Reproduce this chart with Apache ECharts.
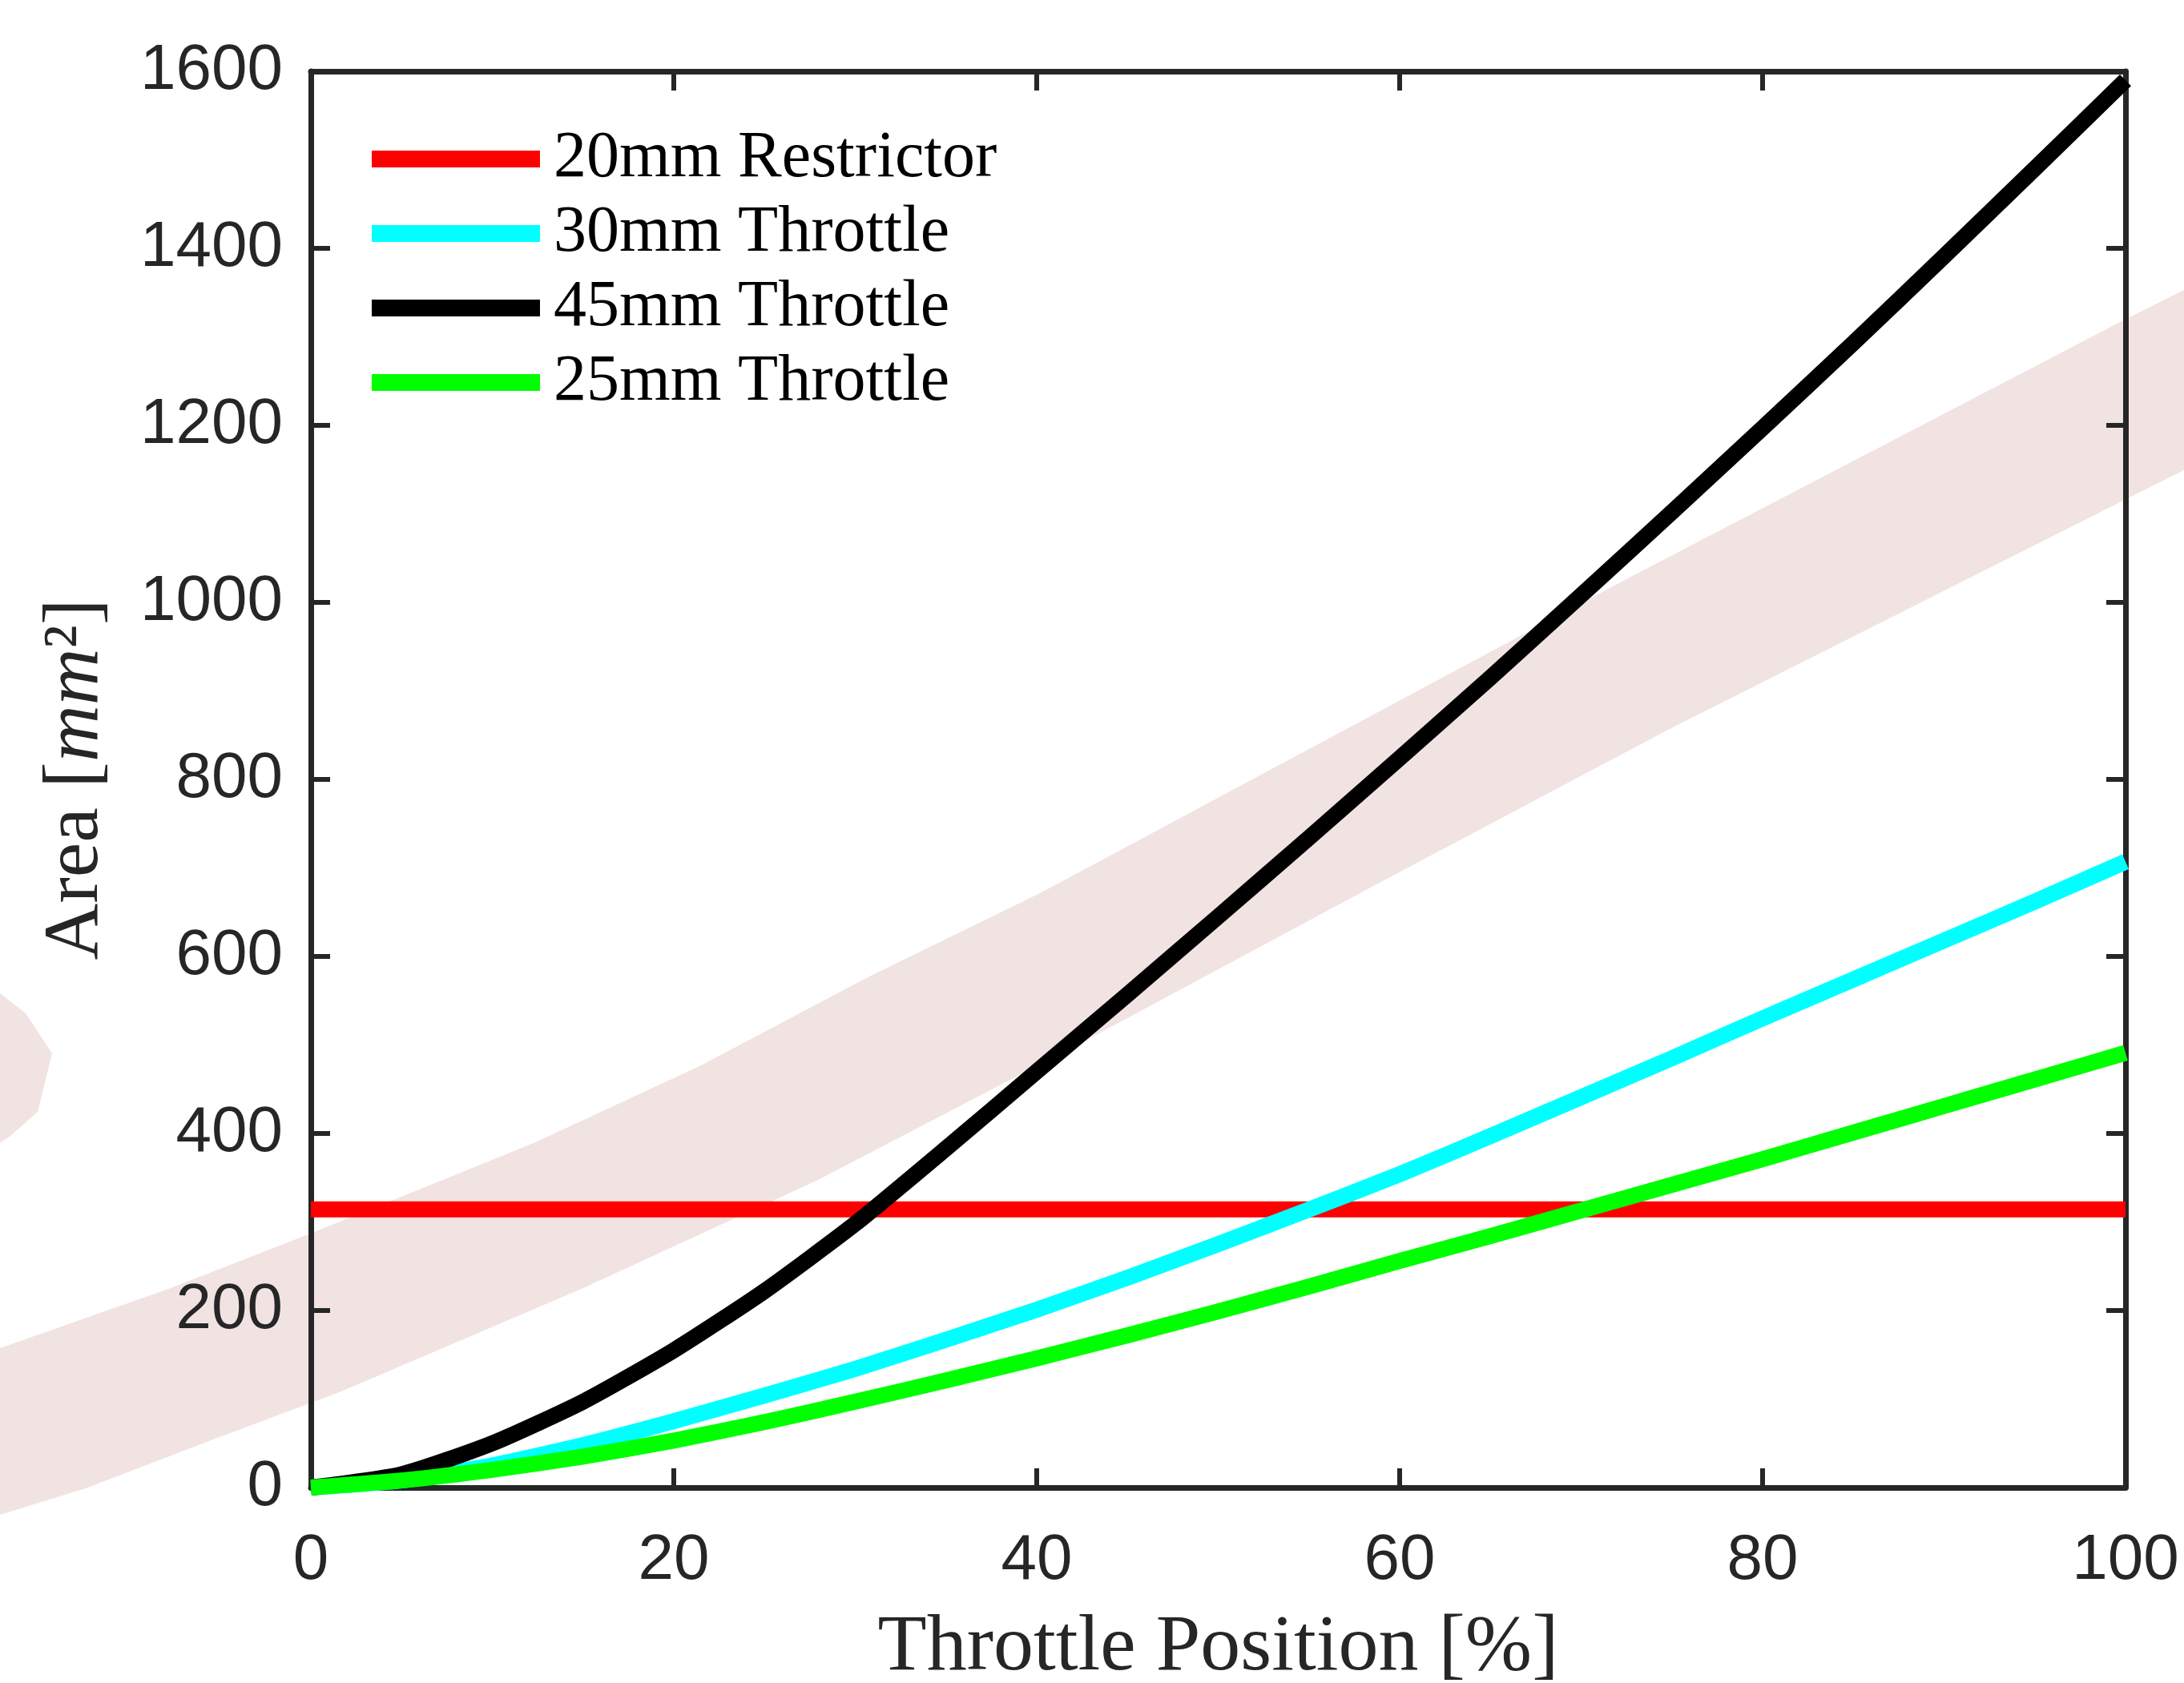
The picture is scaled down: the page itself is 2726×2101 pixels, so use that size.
<!DOCTYPE html>
<html>
<head>
<meta charset="utf-8">
<script src="https://cdn.jsdelivr.net/npm/echarts@6/dist/echarts.min.js"></script>
<style>
html,body{margin:0;padding:0;background:#ffffff;}
#chart{width:2726px;height:2101px;}
</style>
</head>
<body>
<div id="chart"></div>
<script>
// ---- data ----
const throttlePosition = [0,5,10,15,20,25,30,35,40,45,50,55,60,65,70,75,80,85,90,95,100];
const restrictor20 = [314.16,314.16,314.16,314.16,314.16,314.16,314.16,314.16,314.16,314.16,314.16,314.16,314.16,314.16,314.16,314.16,314.16,314.16,314.16,314.16,314.16];
const throttle30 = [0,8,25,48,75,104,134,167,201,237,275,314,354,397,441,485,530,574,618,662,707];
const throttle45 = [0,15,50,97,155,222,298,383,470,557,645,734,824,915,1008,1102,1197,1293,1391,1490,1590];
const throttle25 = [0,8,20,35,53,74,97,121,146,172,199,227,256,284,313,342,371,401,431,461,491];
const seriesNames = ['20mm Restrictor','30mm Throttle','45mm Throttle','25mm Throttle'];
const seriesColors = ['#ff0000','#00ffff','#000000','#00ff00'];
const xAxisTitle = 'Throttle Position [%]';
const yAxisTitle = '{a|Area [}{i|mm}{a|²]}';

// ---- watermark band (decoration, not data) ----
const bandShape = [
  [0,1683],[213,1608],[382,1542],[666,1427],[875,1330],[1083,1220],[1300,1114],[1660,921],[2028,724],[2652,399],[2726,362],
  [2726,587],[2652,624],[2082,911],[1720,1103],[1355,1299],[1021,1473],[728,1608],[426,1737],[266,1797],[107,1858],[0,1891]
];
const blobShape = [[0,1240],[32,1265],[65,1315],[47,1388],[13,1418],[0,1427]];

const axisColor = '#262626';
const pairs = vals => throttlePosition.map((x, i) => [x, vals[i]]);
const allValues = [restrictor20, throttle30, throttle45, throttle25];

const chart = echarts.init(document.getElementById('chart'), null, {renderer: 'canvas'});

const makeAxis = extra => Object.assign({
  type: 'value',
  axisLine: {show: true, onZero: false, lineStyle: {color: axisColor, width: 7}},
  axisTick: {show: true, inside: true, length: 24, lineStyle: {color: axisColor, width: 6}},
  splitLine: {show: false}
}, extra);

const option = {
  backgroundColor: '#ffffff',
  animation: false,
  grid: {left: 388, right: 73, top: 89, bottom: 244, containLabel: false, outerBoundsMode: 'none'},
  graphic: [
    {type: 'polygon', z: -10, silent: true, shape: {points: bandShape}, style: {fill: '#f2e3e3'}},
    {type: 'polygon', z: -10, silent: true, shape: {points: blobShape}, style: {fill: '#f2e3e3'}}
  ],
  legend: {
    orient: 'vertical',
    left: 464,
    top: 152,
    padding: 0,
    itemWidth: 210,
    itemHeight: 21,
    itemGap: 0,
    icon: 'rect',
    data: seriesNames,
    textStyle: {fontFamily: 'Liberation Serif', fontSize: 82, color: '#000000', lineHeight: 93, padding: [0,0,0,12]}
  },
  xAxis: [
    makeAxis({
      position: 'bottom', min: 0, max: 100, interval: 20,
      name: xAxisTitle, nameLocation: 'middle', nameGap: 151,
      nameTextStyle: {fontFamily: 'Liberation Serif', fontSize: 100, color: axisColor, lineHeight: 100},
      axisLabel: {show: true, margin: 52, fontFamily: 'Liberation Sans', fontSize: 80, color: axisColor,
                  formatter: v => String(v)}
    }),
    makeAxis({
      position: 'top', min: 0, max: 100, interval: 20,
      axisLabel: {show: false}
    })
  ],
  yAxis: [
    makeAxis({
      position: 'left', min: 0, max: 1600, interval: 200,
      name: yAxisTitle, nameLocation: 'middle', nameGap: 244, nameRotate: 90,
      nameTextStyle: {
        fontFamily: 'Liberation Serif', fontSize: 98, color: axisColor, lineHeight: 98,
        rich: {
          a: {fontFamily: 'Liberation Serif', fontSize: 98, color: axisColor, lineHeight: 98},
          i: {fontFamily: 'Liberation Serif', fontSize: 98, fontStyle: 'italic', color: axisColor, lineHeight: 98}
        }
      },
      axisLabel: {show: true, margin: 35, fontFamily: 'Liberation Sans', fontSize: 80, color: axisColor,
                  formatter: v => String(v)}
    }),
    makeAxis({
      position: 'right', min: 0, max: 1600, interval: 200,
      axisLabel: {show: false}
    })
  ],
  series: seriesNames.map((name, k) => ({
    name: name,
    type: 'line',
    xAxisIndex: 0,
    yAxisIndex: 0,
    data: pairs(allValues[k]),
    showSymbol: false,
    symbol: 'none',
    smooth: k === 0 ? false : 0.2,
    clip: false,
    color: seriesColors[k],
    itemStyle: {color: seriesColors[k]},
    lineStyle: {color: seriesColors[k], width: 20, cap: 'butt', join: 'round'},
    emphasis: {disabled: true},
    z: 2 + k
  }))
};

chart.setOption(option);
</script>
</body>
</html>
